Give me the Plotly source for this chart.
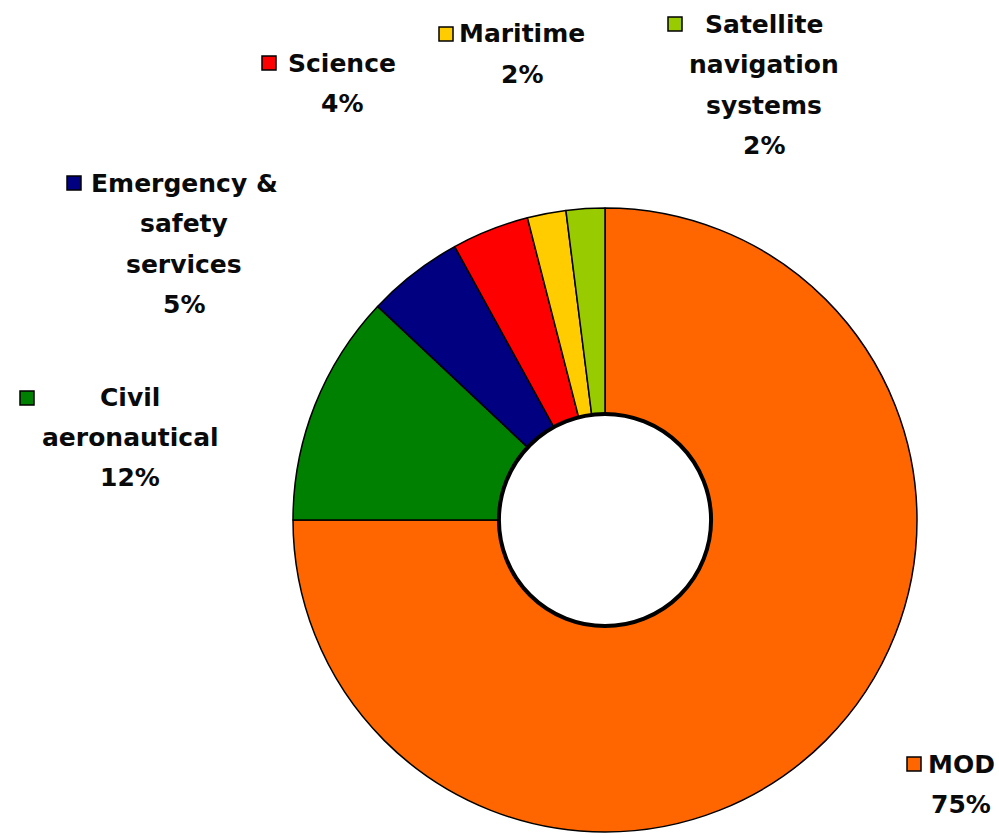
import plotly.graph_objects as go

# ---- data ----
categories = ["MOD", "Civil aeronautical", "Emergency & safety services",
              "Science", "Maritime", "Satellite navigation systems"]
values = [75, 12, 5, 4, 2, 2]
colors = ["#FF6600", "#008000", "#000080", "#FF0000", "#FFCC00", "#99CC00"]
label_lines = [["MOD"], ["Civil", "aeronautical"], ["Emergency &", "safety", "services"],
               ["Science"], ["Maritime"], ["Satellite", "navigation", "systems"]]

# ---- layout constants (pixels) ----
W, H = 999, 838
CX, CY, R = 605, 520, 312
HOLE = 0.34
FONT = dict(family="DejaVu Sans", size=25, color="#0a0a0a", weight="bold")
LINE = 40.5
# per label: (text centre x, first line y, key square centre x, key square y)
label_pos = [
    (961, 764, 914, 764),
    (130, 397, 27, 398),
    (184, 183, 74, 183),
    (342, 63, 269, 63),
    (522, 34, 446, 34),
    (764, 24, 675, 24),
]
SQ = 14


def px(x):
    return x / W


def py(y):
    return 1 - y / H


fig = go.Figure(go.Pie(
    labels=categories, values=values, sort=False, direction="clockwise", rotation=0,
    hole=HOLE, textinfo="none", hoverinfo="label+percent",
    marker=dict(colors=colors, line=dict(color="#000000", width=1.5)),
    domain=dict(x=[px(CX - R), px(CX + R)], y=[py(CY + R), py(CY - R)]),
    showlegend=False,
))

total = sum(values)
annotations = []
shapes = []
for lines, v, col, (tx, ty, sx, sy) in zip(label_lines, values, colors, label_pos):
    all_lines = lines + [f"{v / total * 100:.0f}%"]
    for i, t in enumerate(all_lines):
        annotations.append(dict(
            x=px(tx), y=py(ty + i * LINE), xref="paper", yref="paper",
            text=t, showarrow=False, xanchor="center", yanchor="middle", font=FONT))
    shapes.append(dict(
        type="rect", xref="paper", yref="paper",
        x0=px(sx - SQ / 2), x1=px(sx + SQ / 2), y0=py(sy + SQ / 2), y1=py(sy - SQ / 2),
        fillcolor=col, line=dict(color="#000000", width=1.5)))

rh = R * HOLE
shapes.append(dict(type="circle", xref="paper", yref="paper",
                   x0=px(CX - rh), x1=px(CX + rh), y0=py(CY + rh), y1=py(CY - rh),
                   line=dict(color="#000000", width=4), fillcolor="rgba(0,0,0,0)"))

fig.update_layout(
    width=W, height=H, autosize=False,
    margin=dict(l=0, r=0, t=0, b=0),
    paper_bgcolor="white", plot_bgcolor="white",
    annotations=annotations, shapes=shapes,
)

fig.write_html("out.html", config={"displayModeBar": False},
               post_script="document.body.style.margin='0';document.body.style.overflow='hidden';")
